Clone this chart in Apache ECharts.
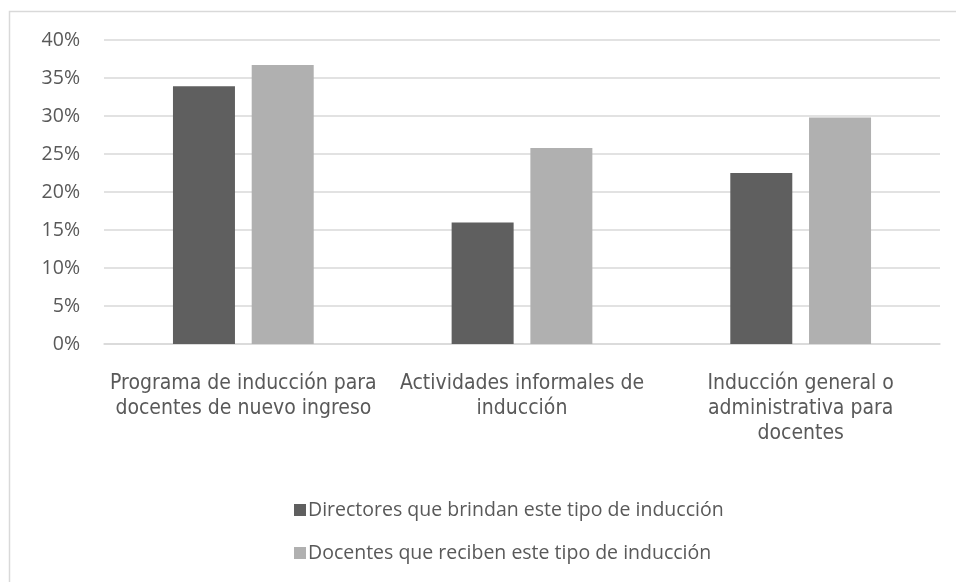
<!DOCTYPE html>
<html><head><meta charset="utf-8">
<script src="https://cdn.jsdelivr.net/npm/echarts@6/dist/echarts.min.js"></script>
<style>html,body{margin:0;padding:0;background:#fff}#c{width:956px;height:582px}</style>
</head><body><div id="c"></div>
<script>
const categories = ["Programa de inducción para\ndocentes de nuevo ingreso", "Actividades informales de\ninducción", "Inducción general o\nadministrativa para\ndocentes"];
const directores = [33.9, 16.0, 22.5];
const docentes = [36.7, 25.8, 29.8];
const seriesNames = ["Directores que brindan este tipo de inducción", "Docentes que reciben este tipo de inducción"];

const chart = echarts.init(document.getElementById('c'));
chart.setOption({
  animation: false,
  graphic: [{type:'rect', shape:{x:9.5, y:11.5, width:1000, height:1000}, style:{fill:'none', stroke:'#d9d9d9', lineWidth:1.5}, silent:true}],
  grid: {left:104, right:16, top:40, bottom:238, containLabel:false},
  legend: {
    orient:'vertical', left:289, top:495, itemWidth:12, itemHeight:12, itemGap:23,
    icon:'rect',
    textStyle:{fontFamily:'Open Sans', fontSize:19.5, color:'#595959', padding:[0,0,0,-3]},
    data: seriesNames
  },
  xAxis: {
    type:'category', data:categories,
    axisLine:{lineStyle:{color:'#d9d9d9', width:1.5}},
    axisTick:{show:false},
    axisLabel:{interval:0, margin:27, fontFamily:'DejaVu Sans Condensed', fontSize:21, color:'#595959', lineHeight:25}
  },
  yAxis: {
    type:'value', min:0, max:40, interval:5,
    axisLabel:{formatter:'{value}%', margin:24, fontFamily:'Open Sans', fontSize:19.5, color:'#595959'},
    splitLine:{lineStyle:{color:'#d9d9d9', width:1.5}},
    axisLine:{show:false}, axisTick:{show:false}
  },
  series: [
    {name:seriesNames[0], type:'bar', data:directores, barWidth:62, barGap:'27%', itemStyle:{color:'#5f5f5f'}},
    {name:seriesNames[1], type:'bar', data:docentes, barWidth:62, itemStyle:{color:'#b0b0b0'}}
  ]
});
</script></body></html>
